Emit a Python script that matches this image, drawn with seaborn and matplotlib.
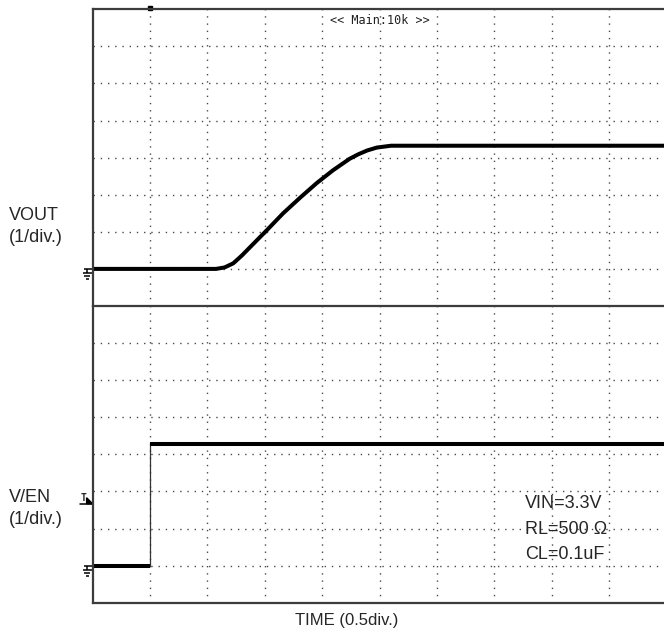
import matplotlib
matplotlib.use("Agg")
import matplotlib.pyplot as plt
import seaborn as sns
from matplotlib.patches import Polygon

# ---- trace data, in screen divisions (x: 0..10, y: 0..8 per panel) ----
VOUT_T = [0.0, 2.15, 2.3, 2.45, 2.6, 2.74, 3.04, 3.32, 3.63, 3.91, 4.19, 4.48,
          4.63, 4.78, 4.95, 5.2, 9.95]
VOUT_V = [1.0, 1.0, 1.04, 1.15, 1.36, 1.58, 2.05, 2.5, 2.94, 3.32, 3.66, 3.97,
          4.09, 4.19, 4.27, 4.32, 4.32]
EN_T = [0.0, 1.0, 1.0, 9.95]
EN_V = [1.0, 1.0, 4.27, 4.27]

GND_LEVEL = 1.0      # ground marker level (both channels)
TRIG_LEVEL = 2.67    # trigger level marker on EN channel
TRIG_POS = 1.0       # trigger time position

CONDITIONS = ["VIN=3.3V", "RL=500 \u03a9", "CL=0.1uF"]
HEADER = "<< Main:10k >>"

# ---- style ----
sns.set_style("white")
plt.rcParams["font.family"] = ["Liberation Sans", "DejaVu Sans"]

W, H = 664, 632
PX_X = 57.4   # pixels per x division
PX_Y = 37.1   # pixels per y division
FRAME = "#3c3c3c"
GRID = "#4a4a4a"
TRACE_LW = 2.9

fig = plt.figure(figsize=(W / 100, H / 100), dpi=100)
left = 92.6 / W
width = 9.95 * PX_X / W
ax_top = fig.add_axes([left, (H - 306) / H, width, 8 * PX_Y / H])
ax_bot = fig.add_axes([left, (H - 306 - 8 * PX_Y) / H, width, 8 * PX_Y / H])
ax_bot.patch.set_alpha(0)


def style_axis(ax):
    ax.set_xlim(0, 9.95)
    ax.set_ylim(0, 8)
    ax.set_xticks(range(1, 10))
    ax.set_yticks(range(1, 8))
    ax.tick_params(length=0, labelbottom=False, labelleft=False)
    ax.grid(True, color=GRID, linewidth=1.0, linestyle=(0, (1, 4.2)))
    ax.set_axisbelow(True)
    for s in ax.spines.values():
        s.set_color(FRAME)
        s.set_linewidth(1.6)
        s.set_zorder(5)
    ax.spines["right"].set_visible(False)
    ax.set_xlabel("")
    ax.set_ylabel("")


def ground_marker(ax, level):
    dx, dy = 1 / PX_X, 1 / PX_Y
    kw = dict(color="black", lw=1.1, clip_on=False, solid_capstyle="butt")
    ax.plot([-9 * dx, 0], [level, level], **kw)
    ax.plot([-5.5 * dx, -5.5 * dx], [level, level - 4 * dy], **kw)
    for off, hw in [(4, 4.5), (7, 3), (10, 1.5)]:
        ax.plot([(-5.5 - hw) * dx, (-5.5 + hw) * dx], [level - off * dy] * 2, **kw)


def trigger_marker(ax, level):
    dx, dy = 1 / PX_X, 1 / PX_Y
    ax.plot([-13 * dx, 0], [level, level], color="black", lw=1.1, clip_on=False)
    ax.text(-9.5 * dx, level + 0.5 * dy, "T", fontsize=7, ha="center", va="bottom",
            family="DejaVu Sans Mono", fontweight="bold", clip_on=False)
    tri = Polygon([(-6 * dx, level + 6 * dy), (0, level), (-6 * dx, level)],
                  closed=True, color="black", clip_on=False)
    ax.add_patch(tri)


# ---- VOUT channel ----
style_axis(ax_top)
sns.lineplot(x=VOUT_T, y=VOUT_V, ax=ax_top, color="black", linewidth=TRACE_LW,
             estimator=None, sort=False)
ground_marker(ax_top, GND_LEVEL)
ax_top.text(5.0, 8 - 11 / PX_Y, HEADER, ha="center", va="center",
            family="DejaVu Sans Mono", fontsize=8.5, color="#222222")
ax_top.plot([TRIG_POS], [8 + 1.5 / PX_Y], marker="s", ms=2.2, color="black",
            clip_on=False)

# ---- EN channel ----
style_axis(ax_bot)
ax_bot.spines["top"].set_visible(False)
sns.lineplot(x=EN_T, y=EN_V, ax=ax_bot, color="#333333", linewidth=0.9,
             estimator=None, sort=False)
ax_bot.hlines([EN_V[0]], EN_T[0], EN_T[1], color="black", linewidth=TRACE_LW)
ax_bot.hlines([EN_V[-1]], EN_T[2], EN_T[-1], color="black", linewidth=TRACE_LW)
ground_marker(ax_bot, GND_LEVEL)
trigger_marker(ax_bot, TRIG_LEVEL)

for i, line in enumerate(CONDITIONS):
    ax_bot.text(7.53, 2.67 - i * 0.69, line, ha="left", va="center", fontsize=13)

# ---- channel labels ----
for txt, y in [("VOUT", 215), ("(1/div.)", 238), ("V/EN", 498), ("(1/div.)", 520)]:
    fig.text(9 / W, 1 - y / H, txt, ha="left", va="center", fontsize=13)
fig.text(347 / W, 1 - 621 / H, "TIME (0.5div.)", ha="center", va="center", fontsize=12)

fig.savefig("out.png", dpi=100)
